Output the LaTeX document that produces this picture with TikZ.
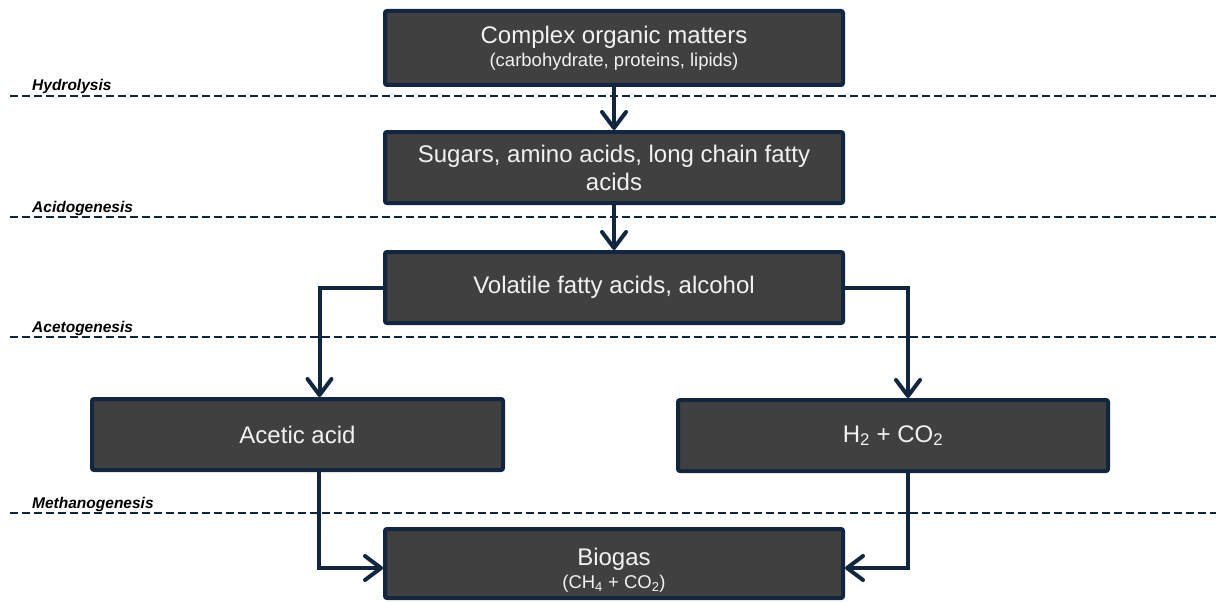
\documentclass[tikz,border=0pt]{standalone}
\usepackage{fontspec}
\setmainfont{Liberation Sans}
\usetikzlibrary{arrows.meta}
\definecolor{navy}{RGB}{18,38,64}
\definecolor{boxgray}{RGB}{64,64,64}
\definecolor{boxtext}{RGB}{242,242,242}

\begin{document}
\begin{tikzpicture}[x=1pt, y=-1pt,
  stage/.style={draw=navy, line width=4pt, fill=boxgray, text=boxtext, rounded corners=2pt,
    align=center, inner sep=0pt, font=\fontsize{24}{28}\selectfont},
  flow/.style={navy, line width=4pt, -{Straight Barb[length=16pt, width=24pt, round]}},
  phase/.style={font=\fontsize{15.5}{16}\selectfont\bfseries\itshape, anchor=base west, inner sep=0pt}]
  \useasboundingbox (0,0) rectangle (1216,602);
  % Stage separators
  \foreach \y/\name in {96/Hydrolysis, 217/Acidogenesis, 337/Acetogenesis, 513/Methanogenesis} {
    \draw[navy, line width=2pt, dash pattern=on 8pt off 4pt] (10,\y) -- (1216,\y);
    \node[phase] (lbl\name) at (32,\y-5) {\name};
  }
  % Boxes
  \node[stage, minimum width=458, minimum height=74] (complex) at (614,48)
    {Complex organic matters\\[-5pt]{\fontsize{18.5}{22}\selectfont(carbohydrate, proteins, lipids)}};
  \node[stage, minimum width=458, minimum height=71] (sugars) at (614,167.5)
    {Sugars, amino acids, long chain fatty\\acids};
  \node[stage, minimum width=458, minimum height=71] (volatile) at (614,287.5)
    {Volatile fatty acids, alcohol};
  \node[stage, minimum width=411, minimum height=71] (acetic) at (297.5,434.5) {Acetic acid};
  \node[stage, minimum width=430, minimum height=71] (hydrogen) at (893,435.5)
    {H\textsubscript{2} + CO\textsubscript{2}};
  \node[stage, minimum width=458, minimum height=69] (biogas) at (614,563.5)
    {\rule{0pt}{30pt}Biogas\\[-5pt]{\fontsize{18.5}{22}\selectfont(CH\textsubscript{4} + CO\textsubscript{2})}};
  % Arrows
  \draw[flow] (complex) -- (sugars);
  \draw[flow] (sugars) -- (volatile);
  \draw[flow] (volatile.west) -| ([xshift=22pt]acetic.north);
  \draw[flow] (volatile.east) -| ([xshift=15pt]hydrogen.north);
  \draw[flow] ([xshift=21pt]acetic.south) |- ([yshift=-4.5pt]biogas.west);
  \draw[flow] ([xshift=15pt]hydrogen.south) |- ([yshift=-4.5pt]biogas.east);
\end{tikzpicture}
\end{document}
